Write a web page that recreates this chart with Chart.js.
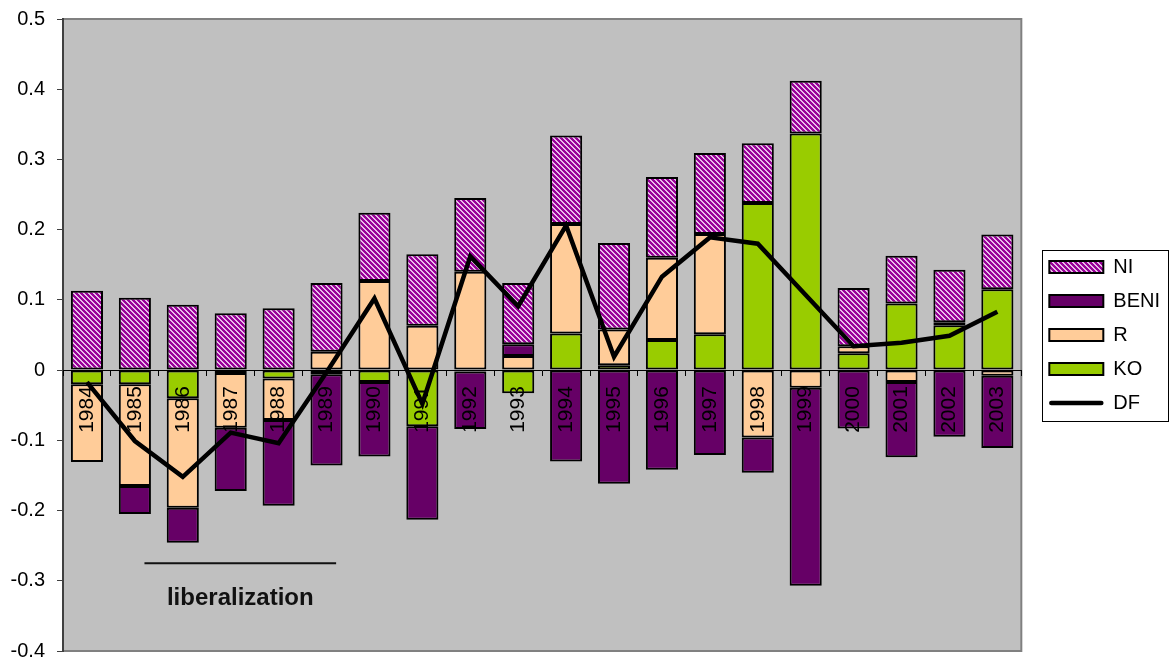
<!DOCTYPE html>
<html>
<head>
<meta charset="utf-8">
<script src="https://cdn.jsdelivr.net/npm/chart.js@4.4.1/dist/chart.umd.min.js"></script>
<style>
  html, body { margin: 0; padding: 0; background: #fff; }
  #wrap { width: 1171px; height: 662px; }
</style>
</head>
<body>
<div id="wrap"><canvas id="dfChart"></canvas></div>
<script>
// ---- data ----
const years = ['1984','1985','1986','1987','1988','1989','1990','1991','1992','1993',
               '1994','1995','1996','1997','1998','1999','2000','2001','2002','2003'];
const KO   = [-0.020,-0.020,-0.040,-0.004,-0.012,-0.006,-0.017,-0.080,-0.002,-0.033,
               0.052, 0.007, 0.043, 0.051, 0.238, 0.337, 0.024, 0.095, 0.064, 0.115];
const R    = [-0.111,-0.145,-0.156,-0.078,-0.059, 0.026, 0.127, 0.063, 0.140, 0.020,
               0.156, 0.051, 0.117, 0.143,-0.096,-0.025, 0.010,-0.017, 0.004,-0.008];
const BENI = [  null,-0.040,-0.050,-0.090,-0.122,-0.130,-0.106,-0.133,-0.082, 0.017,
              -0.130,-0.162,-0.142,-0.121,-0.050,-0.282,-0.083,-0.107,-0.095,-0.103];
const NI   = [ 0.113, 0.103, 0.093, 0.081, 0.088, 0.098, 0.097, 0.102, 0.105, 0.087,
               0.126, 0.123, 0.115, 0.115, 0.085, 0.075, 0.083, 0.068, 0.075, 0.078];
const DF   = [-0.017,-0.101,-0.152,-0.089,-0.104,-0.003, 0.102,-0.048, 0.162, 0.091,
               0.206, 0.019, 0.133, 0.189, 0.180, 0.107, 0.034, 0.039, 0.049, 0.083];
const yMin = -0.4, yMax = 0.5, yStep = 0.1;
// liberalization bracket (category index units / y values)
const libRange = [1.2, 5.2];
const libLineY = -0.275;
const libTextY = -0.334;
const libText = 'liberalization';

Chart.defaults.font.family = '"Liberation Sans", Arial, sans-serif';
Chart.defaults.font.size = 20;
Chart.defaults.color = '#000';

// hatched fill for NI
function makeHatch() {
  const p = 5;
  const c = document.createElement('canvas');
  c.width = p; c.height = p;
  const g = c.getContext('2d');
  g.fillStyle = '#990099';
  g.fillRect(0, 0, p, p);
  g.fillStyle = '#e8bde8';
  for (let y = 0; y < p; y++) {
    for (let x = 0; x < p; x++) {
      if ((x - y + p) % p < 2) g.fillRect(x, y, 1, 1);
    }
  }
  return g.createPattern(c, 'repeat');
}
const hatch = makeHatch();

// grey plot area with frame
const plotFrame = {
  id: 'plotFrame',
  beforeDraw(chart) {
    const {ctx, chartArea: a} = chart;
    ctx.save();
    ctx.fillStyle = '#c0c0c0';
    ctx.fillRect(a.left, a.top, a.width, a.height);
    ctx.strokeStyle = '#808080';
    ctx.lineWidth = 2;
    ctx.strokeRect(a.left, a.top, a.width, a.height);
    ctx.restore();
  }
};

// move legend a bit away from the plot
const legendShift = {
  id: 'legendShift',
  afterLayout(chart) {
    const lg = chart.legend;
    const dx = chart.chartArea.right + 14 - lg.left;
    lg.left += dx;
    lg.right += dx;
  }
};

// legend frame, DF legend line, liberalization note
const extras = {
  id: 'extras',
  afterDraw(chart) {
    const {ctx} = chart;
    const x = chart.scales.x, y = chart.scales.y;
    const lg = chart.legend;
    const hb = lg.legendHitBoxes;
    ctx.save();
    if (hb && hb.length) {
      const first = hb[0], last = hb[hb.length - 1];
      ctx.strokeStyle = '#000';
      ctx.lineWidth = 1;
      const l = first.left - 7, t = first.top - 7.5;
      const r = lg.right - 2, b = last.top + last.height + 7.5;
      ctx.strokeRect(Math.round(l) + 0.5, Math.round(t) + 0.5, Math.round(r - l), Math.round(b - t));
      ctx.lineWidth = 4.5;
      ctx.lineCap = 'round';
      ctx.beginPath();
      ctx.moveTo(last.left + 2, last.top + 10);
      ctx.lineTo(last.left + 52, last.top + 10);
      ctx.stroke();
    }
    ctx.lineCap = 'butt';
    ctx.strokeStyle = '#111';
    ctx.lineWidth = 2;
    const ly = y.getPixelForValue(libLineY);
    ctx.beginPath();
    ctx.moveTo(x.getPixelForValue(libRange[0]), ly);
    ctx.lineTo(x.getPixelForValue(libRange[1]), ly);
    ctx.stroke();
    ctx.fillStyle = '#111';
    ctx.font = 'bold 24px "Liberation Sans", Arial, sans-serif';
    ctx.textAlign = 'center';
    ctx.textBaseline = 'alphabetic';
    ctx.fillText(libText, x.getPixelForValue((libRange[0] + libRange[1]) / 2), y.getPixelForValue(libTextY));
    ctx.restore();
  }
};

const barStyle = { borderColor: '#000', borderWidth: 2, borderSkipped: false, stack: 'bars',
                   barPercentage: 0.67, categoryPercentage: 1.0 };

new Chart(document.getElementById('dfChart'), {
  data: {
    labels: years,
    datasets: [
      Object.assign({ type: 'bar', label: 'KO', data: KO, backgroundColor: '#99cc00' }, barStyle),
      Object.assign({ type: 'bar', label: 'R', data: R, backgroundColor: '#ffcc99' }, barStyle),
      Object.assign({ type: 'bar', label: 'BENI', data: BENI, backgroundColor: '#660066' }, barStyle),
      Object.assign({ type: 'bar', label: 'NI', data: NI, backgroundColor: hatch }, barStyle),
      { type: 'line', label: 'DF', data: DF, borderColor: '#000', backgroundColor: '#000',
        borderWidth: 4.5, pointRadius: 0, fill: false, tension: 0, stack: 'df', order: -1 }
    ]
  },
  options: {
    responsive: true,
    maintainAspectRatio: false,
    animation: false,
    layout: { padding: { left: 0, top: 19, right: 15, bottom: 11 } },
    scales: {
      x: {
        stacked: true,
        position: { y: 0 },
        afterFit: (s) => { s.height = 0; },
        grid: { drawOnChartArea: false, drawTicks: true, tickLength: 5, color: '#000', z: 1 },
        border: { display: true, color: '#000', width: 1, z: 1 },
        ticks: { autoSkip: false, minRotation: 90, maxRotation: 90, padding: 11, color: '#000',
                 font: { size: 21 }, z: 1 }
      },
      y: {
        stacked: true,
        min: yMin,
        max: yMax,
        afterFit: (s) => { s.width = 63; s.paddingTop = 0; s.paddingBottom = 0; },
        grid: { drawOnChartArea: false, drawTicks: true, tickLength: 6, color: '#404040' },
        border: { display: true, color: '#404040', width: 2 },
        ticks: { stepSize: yStep, padding: 12, color: '#000', font: { size: 20 },
                 callback: (v) => String(Number(v.toFixed(1))) }
      }
    },
    plugins: {
      tooltip: { enabled: false },
      legend: {
        position: 'right',
        reverse: true,
        labels: {
          boxWidth: 54,
          boxHeight: 12,
          padding: 14,
          color: '#000',
          font: { size: 20 },
          generateLabels(chart) {
            const items = Chart.defaults.plugins.legend.labels.generateLabels(chart);
            items.forEach(it => {
              if (it.text === 'DF') {
                it.fillStyle = 'rgba(0,0,0,0)';
                it.lineWidth = 0;
              } else {
                it.strokeStyle = '#000';
                it.lineWidth = 2;
              }
            });
            return items;
          }
        }
      }
    }
  },
  plugins: [plotFrame, legendShift, extras]
});
</script>
</body>
</html>
